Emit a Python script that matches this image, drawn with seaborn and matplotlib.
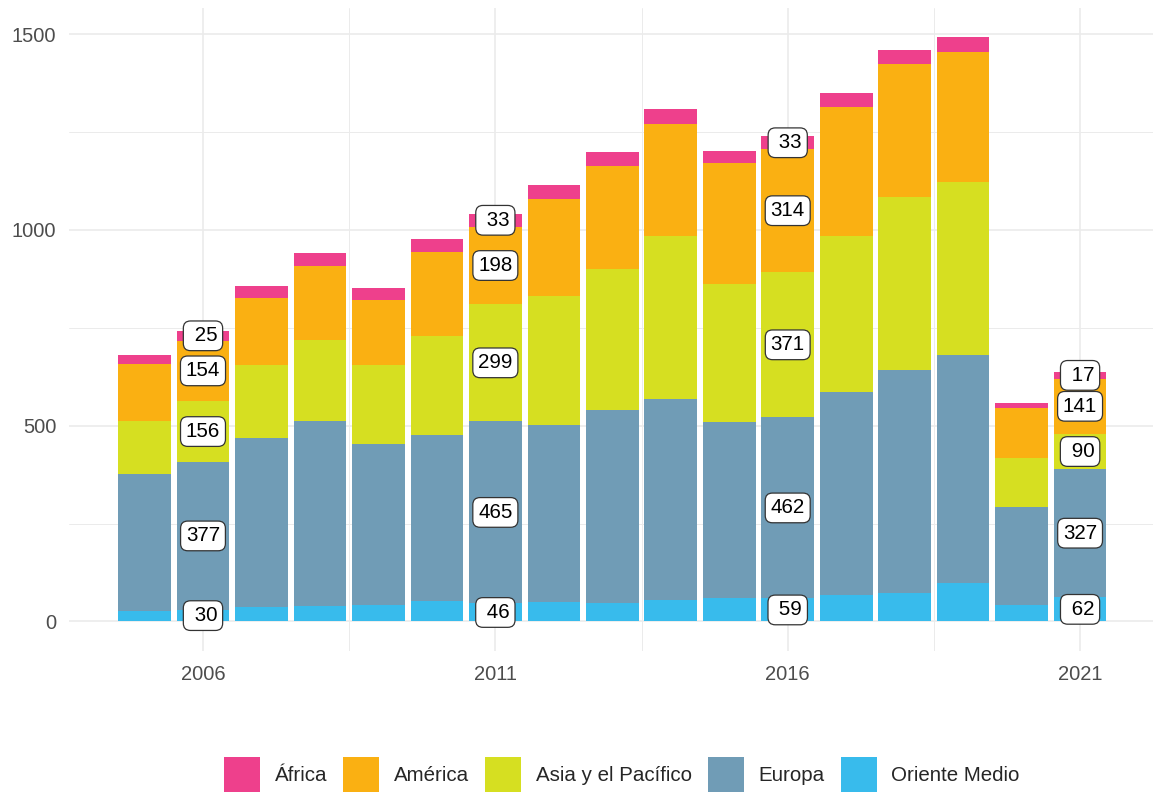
import matplotlib
matplotlib.use("Agg")
import matplotlib.pyplot as plt
import numpy as np
import pandas as pd
import seaborn as sns

# -----------------------------
# Data
# -----------------------------
years = list(range(2005, 2022))
regions = ['África', 'América', 'Asia y el Pacífico', 'Europa', 'Oriente Medio']
colors = ['#EE408C', '#FAB012', '#D6DF21', '#709CB6', '#38BBEC']

africa = [23, 25, 30, 32, 31, 32, 33, 36, 36, 37, 32, 33, 37, 37, 39, 15, 17]
america = [145, 154, 172, 188, 164, 215, 198, 249, 264, 287, 307, 314, 329, 339, 330, 126, 141]
asia = [135, 156, 186, 208, 203, 253, 299, 327, 361, 417, 354, 371, 397, 442, 442, 126, 90]
europa = [350, 377, 432, 472, 411, 424, 465, 454, 492, 513, 448, 462, 519, 570, 582, 249, 327]
oriente = [27, 30, 36, 40, 42, 52, 46, 49, 47, 54, 61, 59, 68, 72, 99, 43, 62]

label_years = [2006, 2011, 2016, 2021]
x_ticks = [2006, 2011, 2016, 2021]
y_ticks = [0, 500, 1000, 1500]

series = {'África': africa, 'América': america, 'Asia y el Pacífico': asia,
          'Europa': europa, 'Oriente Medio': oriente}

df = pd.concat([pd.DataFrame({'year': years, 'region': r, 'value': v})
                for r, v in series.items()], ignore_index=True)

# -----------------------------
# Style
# -----------------------------
sns.set_theme(style='white')
plt.rcParams['font.family'] = ['Liberation Sans', 'DejaVu Sans']

W, H = 1153, 792
fig = plt.figure(figsize=(W / 100, H / 100), dpi=100)
ax = fig.add_axes([68.8 / W, 1 - 650.7 / H, (1155.8 - 68.8) / W, (650.7 - 8) / H])

sns.histplot(data=df, x='year', weights='value', hue='region', hue_order=regions,
             palette=dict(zip(regions, colors)), multiple='stack', discrete=True,
             shrink=0.9, alpha=1, linewidth=0, ax=ax)

# value labels: segment centres of the stacked bars (bottom -> top)
stack_order = ['Oriente Medio', 'Europa', 'Asia y el Pacífico', 'América', 'África']
for yr in label_years:
    i = years.index(yr)
    base = 0
    for r in stack_order:
        v = series[r][i]
        ax.text(yr, base + v / 2, f"{v:>3}", ha='center', va='center', fontsize=14.8,
                color='black', zorder=5,
                bbox=dict(boxstyle='round,pad=0.26,rounding_size=0.35', fc='white',
                          ec='#333333', lw=0.9))
        base += v

# axes / grid in the spirit of theme_minimal
ax.set_xlim(2003.705, 2022.295)
ax.set_ylim(-74.6, 1566.6)
ax.set_xticks(x_ticks)
ax.set_xticks([2008.5, 2013.5, 2018.5], minor=True)
ax.set_yticks(y_ticks)
ax.set_yticks([250, 750, 1250], minor=True)
ax.grid(which='major', color='#EBEBEB', lw=1.2)
ax.grid(which='minor', color='#EBEBEB', lw=0.7)
ax.set_axisbelow(True)
ax.tick_params(which='both', length=0)
ax.tick_params(axis='y', pad=9, labelsize=14.5, labelcolor='#4D4D4D')
ax.tick_params(axis='x', pad=10, labelsize=14.5, labelcolor='#4D4D4D')
for s in ax.spines.values():
    s.set_visible(False)
ax.set_xlabel('')
ax.set_ylabel('')

sns.move_legend(ax, 'center', bbox_to_anchor=(622 / W, 1 - 775 / H),
                bbox_transform=fig.transFigure, ncol=5, title=None, frameon=False,
                fontsize=14.8, handlelength=1.75, handleheight=2.36,
                handletextpad=0.7, columnspacing=0.8)

fig.savefig('out.png', dpi=100)
